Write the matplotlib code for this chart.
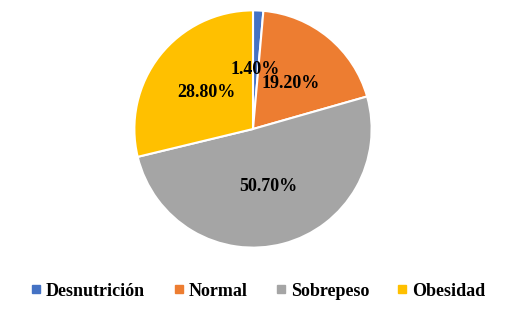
import matplotlib
matplotlib.use("Agg")
import matplotlib.pyplot as plt
from matplotlib.lines import Line2D

categories = ["Desnutrición", "Normal", "Sobrepeso", "Obesidad"]
values = [1.40, 19.20, 50.70, 28.80]
colors = ["#4472C4", "#ED7D31", "#A5A5A5", "#FFC000"]

plt.rcParams['font.family'] = ['Liberation Serif', 'DejaVu Serif']

W, H = 511, 311
fig = plt.figure(figsize=(W / 100, H / 100), dpi=100)
cx, cy, r = 253, 129, 121
ax = fig.add_axes([(cx - r) / W, (H - cy - r) / H, 2 * r / W, 2 * r / H])

wedges, texts, autotexts = ax.pie(
    values, colors=colors, startangle=90, counterclock=False,
    autopct=lambda p: "", pctdistance=0.5,
    wedgeprops=dict(edgecolor="white", linewidth=1.5),
)
for at, v in zip(autotexts, values):
    at.set_text(f"{v:.2f}%")
    at.set_fontsize(13)
    at.set_fontweight("bold")
    at.set_color("black")
ax.set_xlim(-1.02, 1.02)
ax.set_ylim(-1.02, 1.02)

handles = [Line2D([], [], marker="s", linestyle="none", markersize=5.5,
                  markerfacecolor=c, markeredgecolor=c) for c in colors]
fig.legend(handles, categories, loc="center", bbox_to_anchor=(258.5 / W, 1 - 291 / H),
           ncol=4, frameon=False, handlelength=0.5, handletextpad=0.3,
           columnspacing=1.6, prop=dict(size=13, weight="bold"))

fig.savefig("out.png", dpi=100)
